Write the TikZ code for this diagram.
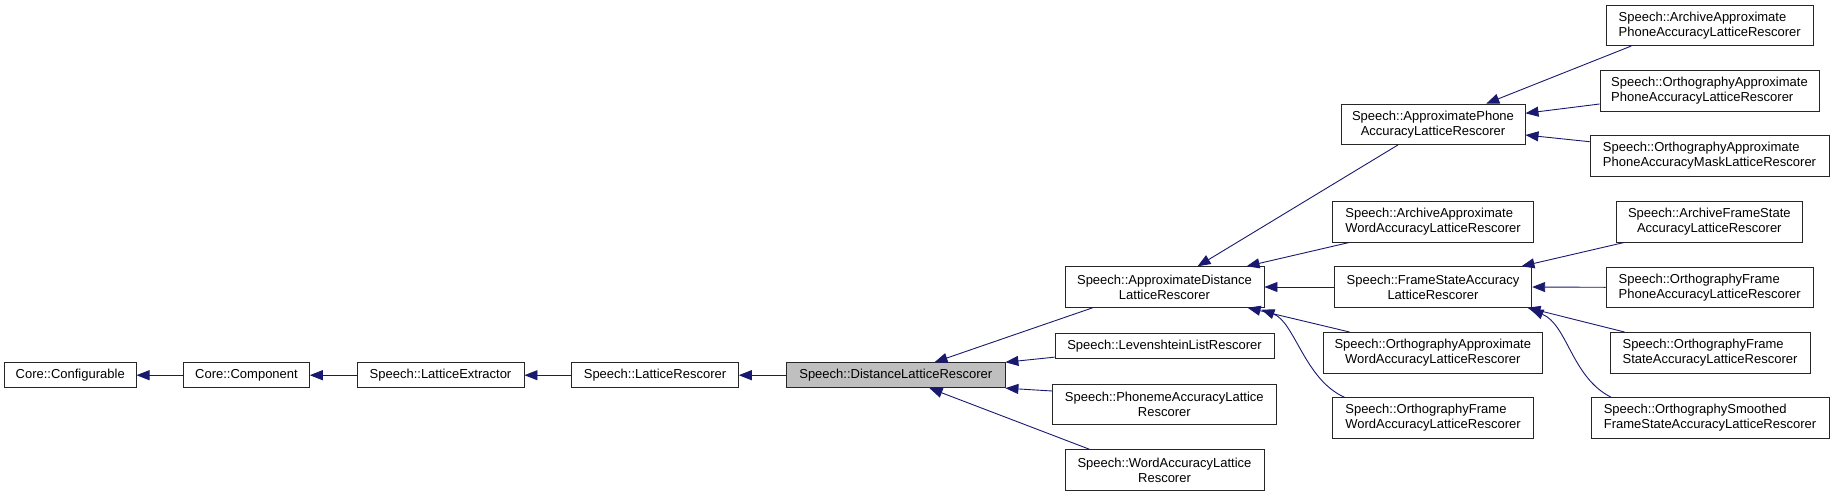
\documentclass[tikz,border=0pt]{standalone}
\usepackage{fontspec}
\setmainfont{Liberation Sans}
\usetikzlibrary{arrows.meta,calc}
\definecolor{edgecol}{HTML}{191970}
\definecolor{boxgray}{HTML}{BFBFBF}
\begin{document}
\begin{tikzpicture}[x=1pt,y=-1pt,
  box/.style={draw=black!85, line width=0.9pt, fill=white, inner sep=0pt,
    font=\fontsize{13}{15}\selectfont, align=center, minimum height=25pt},
  boxtwo/.style={box, minimum height=40.5pt},
  boxl/.style={boxtwo, align=left},
  e/.style={draw=edgecol, line width=0.9pt, -{Triangle[length=13pt,width=10pt]}}]
\useasboundingbox[fill=white] (0,0) rectangle (1835,496);

% nodes
\node[box, minimum width=131.7pt] (conf) at (70.2,375.2) {Core::Configurable};
\node[box, minimum width=125.6pt] (comp) at (246.5,375.2) {Core::Component};
\node[box, minimum width=167pt] (lext) at (440.5,375.2) {Speech::LatticeExtractor};
\node[box, minimum width=166.6pt] (lres) at (655,375.2) {Speech::LatticeRescorer};
\node[box, minimum width=218.3pt, fill=boxgray] (dist) at (895.8,375.2) {Speech::DistanceLatticeRescorer};

\node[boxtwo, minimum width=199pt] (adist) at (1164.5,287) {Speech::ApproximateDistance\\LatticeRescorer};
\node[box, minimum width=219pt] (lev) at (1164.5,345.8) {Speech::LevenshteinListRescorer};
\node[boxtwo, minimum width=223.3pt] (phon) at (1164.3,404.3) {Speech::PhonemeAccuracyLattice\\Rescorer};
\node[boxtwo, minimum width=199pt] (wacc) at (1164.5,470) {Speech::WordAccuracyLattice\\Rescorer};

\node[boxtwo, minimum width=184pt] (aphone) at (1433,124.3) {Speech::ApproximatePhone\\AccuracyLatticeRescorer};
\node[boxl, minimum width=200.6pt] (aawa) at (1433,221.7) {Speech::ArchiveApproximate\\WordAccuracyLatticeRescorer};
\node[boxtwo, minimum width=197.4pt] (fsa) at (1433,287) {Speech::FrameStateAccuracy\\LatticeRescorer};
\node[boxtwo, minimum width=219pt] (oawa) at (1432.8,352.7) {Speech::OrthographyApproximate\\WordAccuracyLatticeRescorer};
\node[boxl, minimum width=200.6pt] (ofwa) at (1433,418) {Speech::OrthographyFrame\\WordAccuracyLatticeRescorer};

\node[boxl, minimum width=207.3pt] (aapa) at (1709.7,25.3) {Speech::ArchiveApproximate\\PhoneAccuracyLatticeRescorer};
\node[boxl, minimum width=219pt] (oapa) at (1709.5,90.7) {Speech::OrthographyApproximate\\PhoneAccuracyLatticeRescorer};
\node[boxl, minimum width=239pt] (oapm) at (1709.5,156) {Speech::OrthographyApproximate\\PhoneAccuracyMaskLatticeRescorer};
\node[boxtwo, minimum width=186.7pt] (afsa) at (1709.3,221.7) {Speech::ArchiveFrameState\\AccuracyLatticeRescorer};
\node[boxl, minimum width=207.3pt] (ofpa) at (1709.7,287.3) {Speech::OrthographyFrame\\PhoneAccuracyLatticeRescorer};
\node[boxl, minimum width=200pt] (ofsa) at (1710,352.7) {Speech::OrthographyFrame\\StateAccuracyLatticeRescorer};
\node[boxl, minimum width=238pt] (osfs) at (1710,418) {Speech::OrthographySmoothed\\FrameStateAccuracyLatticeRescorer};

% edges
\draw[e] (comp.west) -- (conf.east);
\draw[e] (lext.west) -- (comp.east);
\draw[e] (lres.west) -- (lext.east);
\draw[e] (dist.west) -- (lres.east);

\draw[e] ($(adist.south west)+(28.3,0)$) -- ($(dist.north west)+(148.3,0)$);
\draw[e] ($(lev.south west)+(0,-1.6)$) -- (dist.north east);
\draw[e] ($(phon.north west)+(0,7.4)$) -- (dist.south east);
\draw[e] ($(wacc.north west)+(25,0)$) -- ($(dist.south west)+(143.3,0)$);

\draw[e] ($(aphone.south west)+(57.3,0)$) -- ($(adist.north west)+(133,0)$);
\draw[e] ($(aawa.south west)+(17.3,0)$) -- ($(adist.north west)+(182,0)$);
\draw[e] (fsa.west) -- (adist.east);
\draw[e] ($(oawa.north west)+(26.7,0)$) -- ($(adist.south west)+(183,0)$);
\draw[e] ($(ofwa.north west)+(12.3,0)$) .. controls ($(ofwa.north west)+(-27.7,-17.7)$) and ($(ofwa.north west)+(-37.7,-75.7)$) .. ($(adist.south east)+(-3,2)$);

\draw[e] ($(aapa.south west)+(25.7,0)$) -- ($(aphone.north west)+(145.7,0)$);
\draw[e] ($(oapa.west)+(0,13.3)$) -- ($(aphone.east)+(0,-11)$);
\draw[e] ($(oapm.west)+(0,-14.3)$) -- ($(aphone.east)+(0,10.7)$);

\draw[e] ($(afsa.south west)+(9,0)$) -- ($(fsa.north east)+(-10.7,0)$);
\draw[e] (ofpa.west) -- (fsa.east);
\draw[e] ($(ofsa.north west)+(15,0)$) -- ($(fsa.south east)+(-4.7,0)$);
\draw[e] ($(osfs.north west)+(20.7,0)$) .. controls ($(osfs.north west)+(-19,-19.7)$) and ($(osfs.north west)+(-23,-72.7)$) .. ($(fsa.south east)+(-1.7,1.7)$);
\end{tikzpicture}
\end{document}
